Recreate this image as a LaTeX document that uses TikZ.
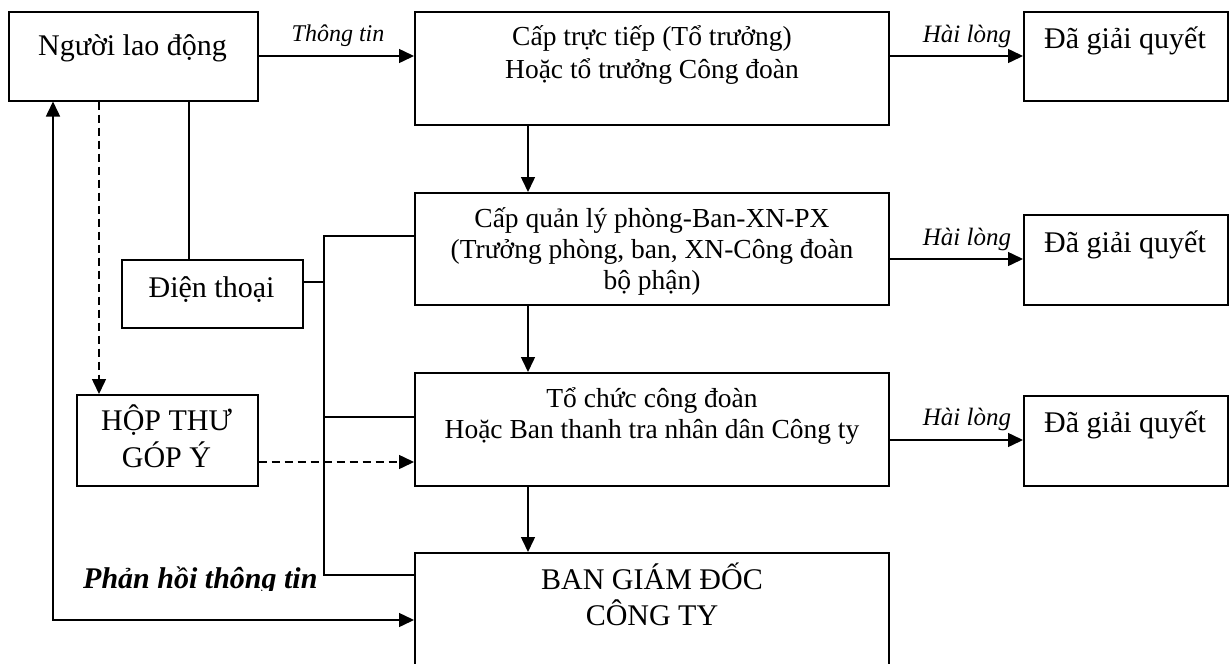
\documentclass[tikz,border=0pt]{standalone}
\usepackage{fontspec}
\setmainfont{Liberation Serif}
\usetikzlibrary{arrows.meta}

\tikzset{
  box/.style={draw, line width=1.5pt, minimum width=#1, anchor=north west, inner sep=0pt},
  txt/.style={anchor=base, inner sep=0pt, font=\fontsize{30}{33}\selectfont},
  mid/.style={anchor=base, inner sep=0pt, font=\fontsize{27.5}{31}\selectfont},
  lbl/.style={anchor=base, inner sep=0pt, font=\fontsize{25}{28}\selectfont\itshape},
  tip/.tip={Triangle[length=15pt,width=14pt]},
  link/.style={line width=1.5pt},
  arr/.style={line width=1.5pt, -tip},
  darr/.style={line width=1.5pt, dash pattern=on 8pt off 5pt, -tip},
}

\begin{document}
\begin{tikzpicture}[x=1pt, y=-1pt]
\useasboundingbox (0,0) rectangle (1229,664);

% boxes (drawn as empty frames, text set line by line)
\node[box=249pt, minimum height=89pt]  (worker) at (8,11) {};
\node[box=474pt, minimum height=113pt] (lead)   at (414,11) {};
\node[box=474pt, minimum height=112pt] (dept)   at (414,192) {};
\node[box=474pt, minimum height=113pt] (union)  at (414,372) {};
\node[box=474pt, minimum height=130pt] (board)  at (414,552) {};
\node[box=204pt, minimum height=89pt]  (done1)  at (1023,11) {};
\node[box=204pt, minimum height=90pt]  (done2)  at (1023,214) {};
\node[box=204pt, minimum height=90pt]  (done3)  at (1023,395) {};
\node[box=181pt, minimum height=68pt]  (phone)  at (121,259) {};
\node[box=181pt, minimum height=91pt]  (mailbox) at (76,394) {};

% box texts
\node[txt] (tWorker) at (132.5,55) {Người lao động};
\node[mid] (tLead1) at (652,45) {Cấp trực tiếp (Tổ trưởng)};
\node[mid] (tLead2) at (652,78) {Hoặc tổ trưởng Công đoàn};
\node[mid] (tDept1) at (652,227) {Cấp quản lý phòng-Ban-XN-PX};
\node[mid] (tDept2) at (652,258) {(Trưởng phòng, ban, XN-Công đoàn};
\node[mid] (tDept3) at (652,289) {bộ phận)};
\node[mid] (tUnion1) at (652,407) {Tổ chức công đoàn};
\node[mid] (tUnion2) at (652,438) {Hoặc Ban thanh tra nhân dân Công ty};
\node[txt] (tBoard1) at (652,589) {BAN GIÁM ĐỐC};
\node[txt] (tBoard2) at (652,625) {CÔNG TY};
\node[txt] (tDone1) at (1125,48) {Đã giải quyết};
\node[txt] (tDone2) at (1125,252) {Đã giải quyết};
\node[txt] (tDone3) at (1125,432) {Đã giải quyết};
\node[txt] (tPhone) at (211.5,297) {Điện thoại};
\node[txt] (tMail1) at (166.5,430) {HỘP THƯ};
\node[txt] (tMail2) at (166.5,467) {GÓP Ý};

% connector labels
\node[lbl, font=\fontsize{24}{28}\selectfont\itshape] (lInfo) at (338,41) {Thông tin};
\node[lbl] (lOk1) at (967,42) {Hài lòng};
\node[lbl] (lOk2) at (967,245) {Hài lòng};
\node[lbl] (lOk3) at (967,425) {Hài lòng};
\begin{scope}
  \clip (0,540) rectangle (420,590);
  \node[anchor=base west, inner sep=0pt, font=\fontsize{30}{33}\selectfont\bfseries\itshape] (lFeedback) at (83,588) {Phản hồi thông tin};
\end{scope}

% main chain
\draw[arr] (worker.east |- 0,56) -- (lead.west |- 0,56);
\draw[arr] (lead.south -| 528,0) -- (dept.north -| 528,0);
\draw[arr] (dept.south -| 528,0) -- (union.north -| 528,0);
\draw[arr] (union.south -| 528,0) -- (board.north -| 528,0);

% satisfied branches
\draw[arr] (lead.east |- 0,56) -- (done1.west |- 0,56);
\draw[arr] (dept.east |- 0,259) -- (done2.west |- 0,259);
\draw[arr] (union.east |- 0,440) -- (done3.west |- 0,440);

% telephone channel
\coordinate (bus) at (324,282);
\draw[link] (worker.south -| 189,0) -- (phone.north -| 189,0);
\draw[link] (phone.east |- bus) -- (bus);
\draw[link] (dept.west |- 0,236) -- (bus |- 0,236) -- (bus |- 0,575) -- (board.west |- 0,575);
\draw[link] (bus |- 0,417) -- (union.west |- 0,417);

% suggestion box channel
\draw[darr] (worker.south -| 99,0) -- (mailbox.north -| 99,0);
\draw[darr] (mailbox.east |- 0,462) -- (union.west |- 0,462);

% feedback loop, arrowheads at both ends
\coordinate (loop) at (53,620);
\draw[link, tip-tip] (worker.south -| loop) -- (loop) -- (board.west |- loop);
\end{tikzpicture}
\end{document}
